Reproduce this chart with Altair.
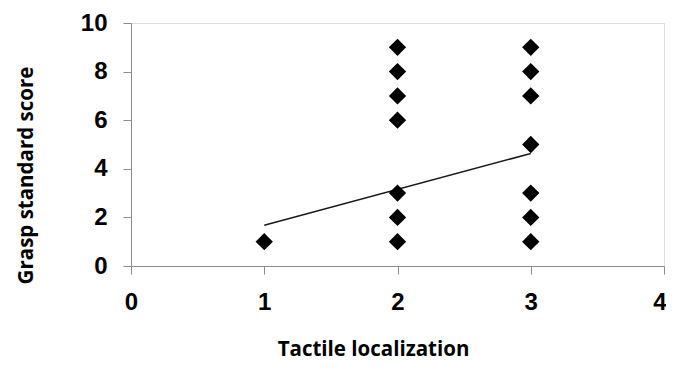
import altair as alt
import pandas as pd

# Scatter data (Tactile localization vs Grasp standard score)
tactile = [1, 2, 2, 2, 2, 2, 2, 2, 3, 3, 3, 3, 3, 3, 3]
grasp = [1, 1, 2, 3, 6, 7, 8, 9, 1, 2, 3, 5, 7, 8, 9]

# Trend line endpoints
trend_x = [1, 3]
trend_y = [1.68, 4.63]

x_ticks = [0, 1, 2, 3, 4]
y_ticks = [0, 2, 4, 6, 8, 10]

pts = pd.DataFrame({"x": tactile, "y": grasp})
trend = pd.DataFrame({"x": trend_x, "y": trend_y})

x_scale = alt.Scale(domain=[0, 4], nice=False, zero=False)
y_scale = alt.Scale(domain=[0, 10], nice=False)

x_axis = alt.Axis(
    title="Tactile localization",
    values=x_ticks,
    format="d",
    grid=False,
    domainColor="#8c8c8c",
    tickColor="#8c8c8c",
    tickSize=8,
    labelPadding=16,
    labelFont="Liberation Sans",
    labelFontSize=24,
    labelFontWeight="bold",
    labelColor="#000000",
    labelAlign={"condition": {"test": "datum.value == 4", "value": "right"}, "value": "center"},
    labelOffset={"condition": {"test": "datum.value == 4", "value": 2}, "value": 0},
    titleFont="Open Sans",
    titleFontSize=20.5,
    titleFontWeight="bold",
    titleColor="#000000",
    titleX=242,
    titleY=83,
    titleBaseline="middle",
    titleAlign="center",
)
y_axis = alt.Axis(
    title="Grasp standard score",
    values=y_ticks,
    format="d",
    grid=False,
    domainColor="#8c8c8c",
    tickColor="#8c8c8c",
    tickSize=8,
    labelPadding=16,
    labelFont="Liberation Sans",
    labelFontSize=24,
    labelFontWeight="bold",
    labelColor="#000000",
    titleFont="Open Sans",
    titleFontSize=20.5,
    titleFontWeight="bold",
    titleColor="#000000",
    titleX=-105,
    titleY=152,
    titleAngle=270,
    titleBaseline="middle",
    titleAlign="center",
)

points = alt.Chart(pts).mark_point(
    shape="diamond", filled=True, color="#000000", size=300, opacity=1
).encode(
    x=alt.X("x:Q", scale=x_scale, axis=x_axis),
    y=alt.Y("y:Q", scale=y_scale, axis=y_axis),
)

line = alt.Chart(trend).mark_line(color="#1a1a1a", strokeWidth=1.5).encode(
    x=alt.X("x:Q", scale=x_scale),
    y=alt.Y("y:Q", scale=y_scale),
)

chart = alt.layer(line, points).properties(
    width=533,
    height=243,
    autosize=alt.AutoSizeParams(type="none"),
    padding={"left": 123, "top": 15, "right": 2, "bottom": 96},
).configure_view(stroke=None).configure(background="#ffffff")

chart.save("out.html", embed_options={"renderer": "svg", "actions": False})
